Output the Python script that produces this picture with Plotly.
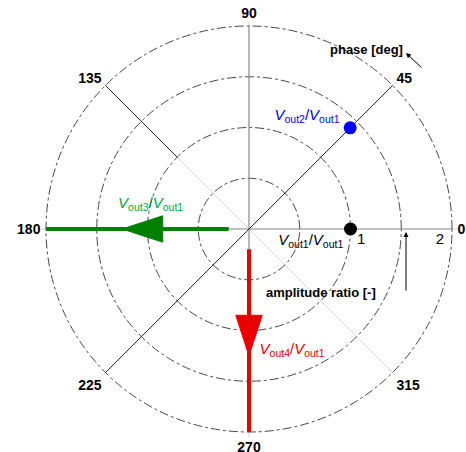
import math
import plotly.graph_objects as go

# ---- data ----
phasor_labels = ["<i>V</i><sub>out1</sub>/<i>V</i><sub>out1</sub>",
                 "<i>V</i><sub>out2</sub>/<i>V</i><sub>out1</sub>",
                 "<i>V</i><sub>out3</sub>/<i>V</i><sub>out1</sub>",
                 "<i>V</i><sub>out4</sub>/<i>V</i><sub>out1</sub>"]
phasor_amp = [1.0, 1.41, 2.0, 2.0]          # amplitude ratio
phasor_phase = [0, 45, 180, 270]             # phase [deg]
line_start_r = 0.2                           # where the thick phasor lines start
arrow_tip_r = 1.25                           # arrowhead tip position on thick phasors
arrow_base_r = 0.85

# label anchor positions (r, theta) for the phasor names
label_r = [0.62, 1.25, 1.0, 1.265]
label_theta = [-11, 62.8, 165.8, 289.6]

radial_grid = [0.5, 1, 1.5, 2]
radial_label_text = ["1", "2"]
radial_label_r = [1.11, 1.885]
radial_label_theta = [-5.6, -3.3]
angular_ticks = [0, 45, 90, 135, 180, 225, 270, 315]
R_MAX = 2.05

# reference lines: (theta_a, r_a, theta_b, r_b)
axis_lines = [(0, 2, 180, 2), (90, 2, 270, 2)]
diag_line = (45, 2, 225, 2)
diag_partial = (135, 1, 135, 2)

# ---- styles ----
FONT = "Liberation Sans"
GREEN = "rgb(0,128,0)"
RED = "rgb(235,0,0)"
BLUE = "rgb(0,0,255)"
label_colors = ["black", BLUE, "rgb(0,165,70)", RED]
ARROW_HALF_W = 0.13

fig = go.Figure()


def seg(t1, r1, t2, r2, color, width):
    if t1 != t2:
        rr, tt = [r1, 0, r2], [t1, t1, t2]
    else:
        rr, tt = [r1, r2], [t1, t2]
    fig.add_trace(go.Scatterpolar(r=rr, theta=tt, mode="lines",
                                  line=dict(color=color, width=width),
                                  hoverinfo="skip", showlegend=False))


for (a, ra, b, rb) in axis_lines:
    seg(a, ra, b, rb, "rgb(150,150,150)", 1.2)
seg(*diag_line, "rgb(40,40,40)", 1)
seg(*diag_partial, "rgb(40,40,40)", 1)


def arrow_poly(theta, tip, base, hw):
    ang = math.degrees(math.atan2(hw, base))
    rb = math.hypot(base, hw)
    return [tip, rb, rb, tip], [theta, theta + ang, theta - ang, theta]


# thick phasor lines (green and red)
for idx, col in ((2, GREEN), (3, RED)):
    th = phasor_phase[idx]
    fig.add_trace(go.Scatterpolar(r=[line_start_r, phasor_amp[idx]], theta=[th, th],
                                  mode="lines", line=dict(color=col, width=4),
                                  hoverinfo="skip", showlegend=False))
    pr, pt = arrow_poly(th, arrow_tip_r, arrow_base_r, ARROW_HALF_W)
    fig.add_trace(go.Scatterpolar(r=pr, theta=pt, mode="lines", fill="toself",
                                  fillcolor=col, line=dict(color=col, width=1),
                                  hoverinfo="skip", showlegend=False))

# dots
fig.add_trace(go.Scatterpolar(r=phasor_amp[:2], theta=phasor_phase[:2], mode="markers",
                              marker=dict(color=["black", BLUE], size=13),
                              showlegend=False))

# phasor names
fig.add_trace(go.Scatterpolar(r=label_r, theta=label_theta, mode="text",
                              text=phasor_labels, textposition="middle center",
                              textfont=dict(family=FONT, size=15, color=label_colors),
                              showlegend=False, hoverinfo="skip"))

# radial tick labels
fig.add_trace(go.Scatterpolar(r=radial_label_r, theta=radial_label_theta, mode="text",
                              text=radial_label_text, textposition="middle center",
                              textfont=dict(family=FONT, size=15, color="black"),
                              showlegend=False, hoverinfo="skip"))

W, H = 466, 452
CX, CY = 249, 229          # centre in pixels
RPX = 203 * R_MAX / 2      # pixel radius of the polar domain
fig.update_layout(
    width=W, height=H,
    margin=dict(l=0, r=0, t=0, b=0),
    paper_bgcolor="white",
    showlegend=False,
    polar=dict(
        domain=dict(x=[(CX - RPX) / W, (CX + RPX) / W],
                    y=[(H - CY - RPX) / H, (H - CY + RPX) / H]),
        bgcolor="white",
        radialaxis=dict(range=[0, R_MAX], tickvals=radial_grid, showticklabels=False,
                        angle=0, showline=False, ticks="",
                        gridcolor="rgb(70,70,70)", griddash="dashdot", gridwidth=1),
        angularaxis=dict(tickvals=angular_ticks, direction="counterclockwise", rotation=0,
                         showline=False, ticks="", gridcolor="rgb(215,215,215)",
                         tickfont=dict(family=FONT, size=14, color="black", weight="bold")),
    ),
    annotations=[
        dict(x=405 / W, y=1 - 40 / H, xref="paper", yref="paper", text="<b>phase [deg]</b>",
             showarrow=False, font=dict(family=FONT, size=13, color="black")),
        dict(x=406 / W, y=1 - 232 / H, xref="paper", yref="paper", ax=0, ay=60,
             text="", showarrow=True, arrowhead=2, arrowsize=1, arrowwidth=1, arrowcolor="black"),
        dict(x=378 / W, y=1 - 302 / H, xref="paper", yref="paper",
             text="<b>amplitude ratio [-]</b>", showarrow=False,
             font=dict(family=FONT, size=13, color="black")),
        dict(x=406 / W, y=1 - 53 / H, xref="paper", yref="paper", ax=17, ay=16,
             text="", showarrow=True, arrowhead=2, arrowsize=1, arrowwidth=1, arrowcolor="black"),
    ],
)

fig.write_html("out.html", config={"displayModeBar": False},
               post_script="document.body.style.margin='0px';")
